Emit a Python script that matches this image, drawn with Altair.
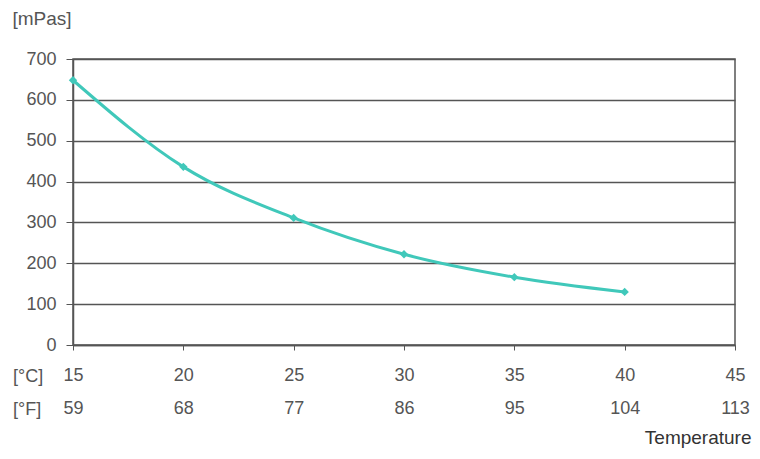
import altair as alt
import pandas as pd

temp_c = [15, 20, 25, 30, 35, 40]
viscosity = [648, 436, 311, 222, 166, 130]
tick_c = [15, 20, 25, 30, 35, 40, 45]
tick_f = ["59", "68", "77", "86", "95", "104", "113"]
y_ticks = [0, 100, 200, 300, 400, 500, 600, 700]

df = pd.DataFrame({"c": temp_c, "v": viscosity})

f_map = "{" + ",".join(f"'{c}':'{f}'" for c, f in zip(tick_c, tick_f)) + "}"
label_expr = f"[datum.label, {f_map}[datum.label]]"

FONT = "Liberation Sans"
GREY = "#555555"
TEAL = "#40c8ba"

x_enc = alt.X(
    "c:Q",
    scale=alt.Scale(domain=[15, 45], nice=False, zero=False),
    axis=alt.Axis(
        values=tick_c, labelExpr=label_expr, grid=False, labelFlush=False,
        tickSize=5, tickColor=GREY, domainColor=GREY, domainWidth=1.5,
        labelPadding=16, labelLineHeight=33, labelFontSize=18, labelColor=GREY,
        labelFont=FONT, labelBaseline="top", labelAlign="center",
        title="Temperature", titleFont=FONT, titleFontSize=19, titleFontWeight="normal",
        titleColor="#333333", titleAngle=0, titleAlign="right", titleBaseline="middle",
        titleX=678, titleY=92,
    ),
)
y_enc = alt.Y(
    "v:Q",
    scale=alt.Scale(domain=[0, 700], nice=False),
    axis=alt.Axis(
        values=y_ticks, grid=True, gridColor=GREY, gridWidth=1.5,
        tickSize=7, tickColor=GREY, domainColor=GREY, domainWidth=1.5,
        labelPadding=10, labelFontSize=18, labelColor=GREY, labelFont=FONT,
        title="[mPas]", titleFont=FONT, titleFontSize=19, titleFontWeight="normal",
        titleColor=GREY, titleAngle=0, titleAlign="left", titleBaseline="middle",
        titleX=-61, titleY=-41,
    ),
)

line = alt.Chart(df).mark_line(
    color=TEAL, strokeWidth=3, interpolate="monotone",
    point=alt.OverlayMarkDef(shape="diamond", filled=True, size=70, color=TEAL),
).encode(x=x_enc, y=y_enc)

unit_c = alt.Chart(df).mark_text(
    font=FONT, fontSize=18, color=GREY, align="left", baseline="middle", text="[°C]"
).encode(x=alt.value(-60), y=alt.value(318)).transform_filter("datum.c == 15")
unit_f = alt.Chart(df).mark_text(
    font=FONT, fontSize=18, color=GREY, align="left", baseline="middle", text="[°F]"
).encode(x=alt.value(-60), y=alt.value(351)).transform_filter("datum.c == 15")

chart = alt.layer(line, unit_c, unit_f).properties(
    width=662, height=286,
    autosize=alt.AutoSizeParams(type="none"),
    padding={"left": 65, "top": 51, "right": 17, "bottom": 105},
).configure_view(stroke=GREY, strokeWidth=1.5)

chart.save("out.html", embed_options={"renderer": "svg", "actions": False})
